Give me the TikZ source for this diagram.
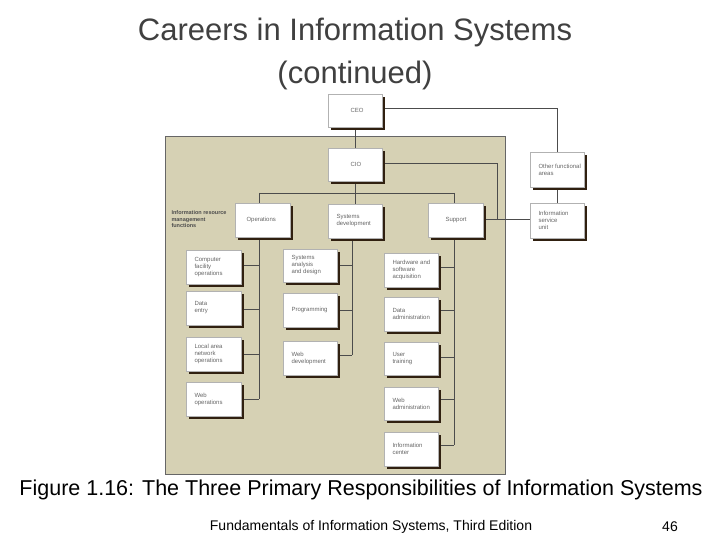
\documentclass[tikz,border=0pt]{standalone}
\usepackage{fontspec}
\setmainfont{Liberation Sans}
\begin{document}
\begin{tikzpicture}[x=1pt,y=-1pt,
  bx/.style={draw=gray!60,fill=white,line width=0.4pt},
  sh/.style={fill=black!75!brown},
  ln/.style={draw=black!70,line width=0.7pt},
  lb/.style={font=\fontsize{6}{7}\selectfont,text=black!60,align=left,anchor=west}]
\useasboundingbox (0,0) rectangle (720,540);
\fill[white] (0,0) rectangle (720,540);
\node[font=\fontsize{31}{34}\selectfont,text=black!75] (t1) at (355,32) {Careers in Information Systems};
\node[font=\fontsize{31}{34}\selectfont,text=black!75] (t2) at (355,75) {(continued)};
\draw[fill={rgb,255:red,214;green,209;blue,180},draw=black!60,line width=0.8pt] (165,136) rectangle (505,474);
\node[font=\bfseries\fontsize{5.5}{6.5}\selectfont,text=black!70,align=left,anchor=north west] (irm) at (168,207) {Information resource\\management\\functions};
% connectors
\draw[ln] (382,108) -- (557,108) -- (557,152);
\draw[ln] (557,187) -- (557,203);
\draw[ln] (382,163) -- (497,163) -- (497,219);
\draw[ln] (483,219) -- (530,219);
\draw[ln] (355,127) -- (355,148);
\draw[ln] (355,181) -- (355,204);
\draw[ln] (259,193) -- (454,193);
\draw[ln] (259,193) -- (259,203);
\draw[ln] (454,193) -- (454,203);
\draw[ln] (259,237) -- (259,399);
\foreach \y in {265,309,354,399} \draw[ln] (241,\y) -- (259,\y);
\draw[ln] (352,238) -- (352,355);
\foreach \y in {265,310,355} \draw[ln] (337,\y) -- (352,\y);
\draw[ln] (454,237) -- (454,445);
\foreach \y in {267,310,357,399,445} \draw[ln] (438,\y) -- (454,\y);
% boxes
\def\B#1#2#3#4#5{\fill[sh] (#1+3,#2+3) rectangle (#3+3,#4+3); \draw[bx] (#1,#2) rectangle (#3,#4); \node[lb] at (#1+5,{(#2+#4)/2}) {#5};}
\B{328}{94}{382}{127}{\hspace{14pt}CEO}
\B{328}{148}{382}{181}{\hspace{14pt}CIO}
\B{530}{152}{584}{187}{Other functional\\areas}
\B{530}{203}{584}{238}{Information\\service\\unit}
\B{235}{203}{290}{237}{\hspace{3pt}Operations}
\B{328}{204}{382}{238}{Systems\\development}
\B{428}{203}{483}{237}{\hspace{9pt}Support}
\B{186}{250}{241}{284}{Computer\\facility\\operations}
\B{186}{291}{241}{325}{Data\\entry}
\B{186}{337}{241}{371}{Local area\\network\\operations}
\B{186}{382}{241}{416}{Web\\operations}
\B{283}{249}{337}{282}{Systems\\analysis\\and design}
\B{283}{293}{337}{327}{Programming}
\B{283}{341}{337}{375}{Web\\development}
\B{384}{253}{438}{287}{Hardware and\\software\\acquisition}
\B{384}{297}{438}{331}{Data\\administration}
\B{384}{342}{438}{375}{User\\training}
\B{384}{387}{438}{420}{Web\\administration}
\B{384}{432}{438}{466}{Information\\center}
\node[font=\fontsize{21.5}{24}\selectfont] (cap) at (361,490) {Figure 1.16: The Three Primary Responsibilities of Information Systems};
\node[font=\fontsize{14}{16}\selectfont] (ft) at (371,527) {Fundamentals of Information Systems, Third Edition};
\node[font=\fontsize{14}{16}\selectfont] (pg) at (670,527) {46};
\end{tikzpicture}
\end{document}
